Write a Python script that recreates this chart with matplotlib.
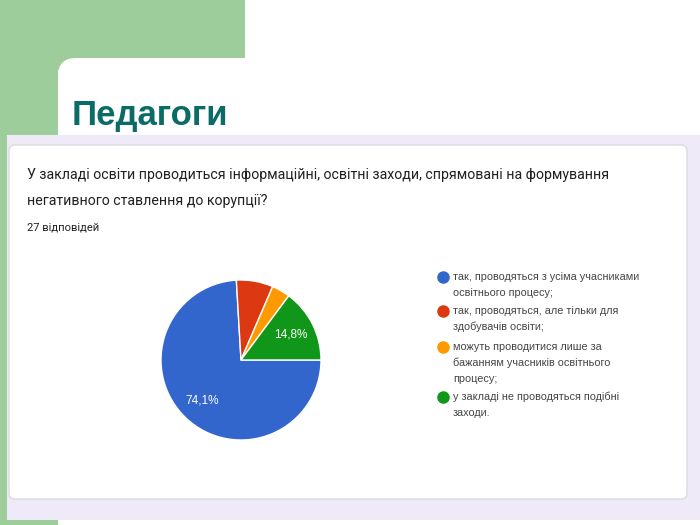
import matplotlib
matplotlib.use('Agg')
import matplotlib.pyplot as plt
from matplotlib.patches import Rectangle, FancyBboxPatch

# дані опитування (27 відповідей)
labels = ['так, проводяться з усіма учасниками\nосвітнього процесу;',
          'так, проводяться, але тільки для\nздобувачів освіти;',
          'можуть проводитися лише за\nбажанням учасників освітнього\nпроцесу;',
          'у закладі не проводяться подібні\nзаходи.']
counts = [20, 2, 1, 4]
colors = ['#3366cc', '#dc3912', '#ff9900', '#109618']

title = 'Педагоги'
question = ('У закладі освіти проводиться інформаційні, освітні заходи, спрямовані на формування\n'
            'негативного ставлення до корупції?')
n_answers = '27 відповідей'

W, H = 700, 525
fig = plt.figure(figsize=(7, 5.25), dpi=100)
bg = fig.add_axes([0, 0, 1, 1])
bg.set_xlim(0, W)
bg.set_ylim(H, 0)
bg.axis('off')

green = '#9dcd9b'
# зелений фон слайду
bg.add_patch(Rectangle((0, 0), 245, 70, color=green, lw=0))
bg.add_patch(Rectangle((0, 0), 58, H, color=green, lw=0))
bg.add_patch(FancyBboxPatch((58, 58), 800, 600, boxstyle='round,pad=0,rounding_size=18',
                            fc='white', ec='none'))
bg.text(72, 116, title, fontsize=25, fontweight='bold', color='#0b6b66',
        family='Liberation Sans', va='center', ha='left')

# смуга та картка google forms
bg.add_patch(Rectangle((7, 135), 700, 385, color='#eeeaf8', lw=0))
bg.add_patch(FancyBboxPatch((9, 145), 678, 354, boxstyle='round,pad=0,rounding_size=6',
                            fc='white', ec='#dadce0', lw=1))
bg.text(27, 188, question, fontsize=10.2, color='#202124', family='Roboto',
        va='center', ha='left', linespacing=2.0)
bg.text(27, 228, n_answers, fontsize=8, color='#202124', family='Roboto',
        va='center', ha='left')

# легенда
rows_y = [277, 311, 347, 397]
for lab, c, y in zip(labels, colors, rows_y):
    bg.plot(443, y, 'o', ms=8, color=c)
    bg.text(453, y - 5, lab, fontsize=7.8, color='#444444', family='Liberation Sans',
            va='top', ha='left', linespacing=1.7)

# кругова діаграма
cx, cy, r = 241, 360, 80
ax = fig.add_axes([(cx - r) / W, (H - cy - r) / H, 2 * r / W, 2 * r / H])


def pct(p):
    return ('%.1f%%' % p).replace('.', ',') if p > 10 else ''


wedges, texts, autotexts = ax.pie(counts, colors=colors, startangle=0, counterclock=False,
                                  autopct=pct, pctdistance=0.7,
                                  wedgeprops=dict(edgecolor='white', linewidth=1))
for t in autotexts:
    t.set_color('white')
    t.set_fontsize(8.5)
    t.set_family('Liberation Sans')
ax.set_xlim(-1, 1)
ax.set_ylim(-1, 1)
ax.set_aspect('equal')

fig.savefig('out.png', dpi=100)
